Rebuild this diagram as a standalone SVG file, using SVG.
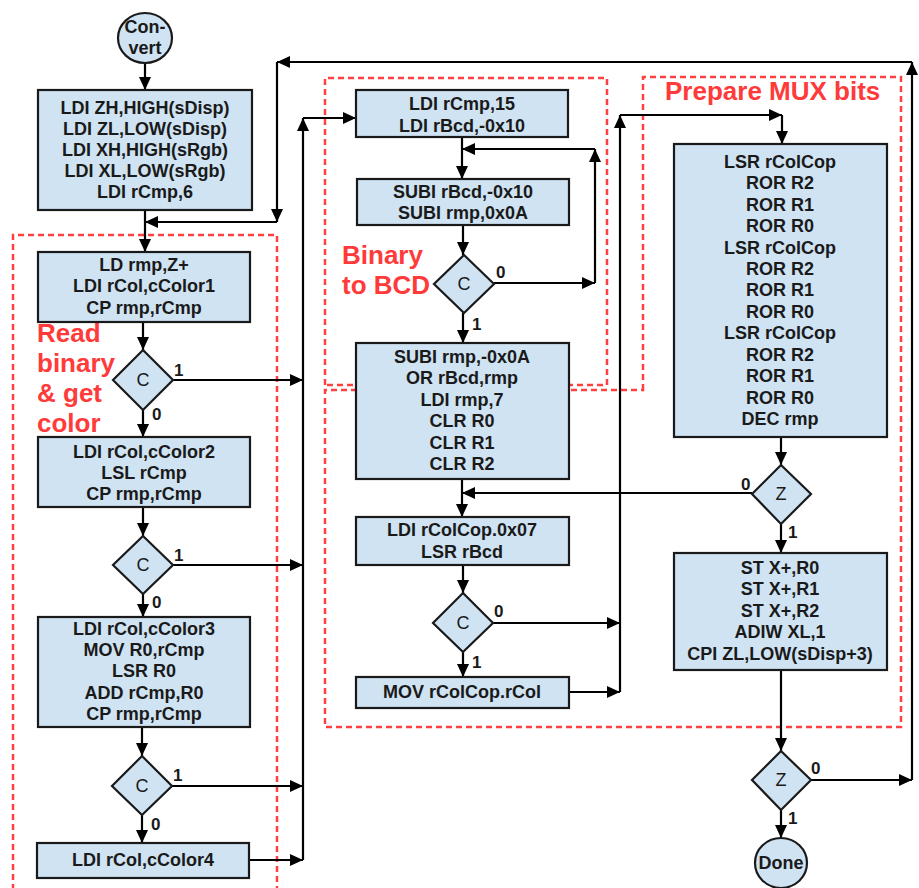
<svg xmlns="http://www.w3.org/2000/svg" width="919" height="888" viewBox="0 0 919 888">
<defs>
<marker id="ah" markerWidth="13" markerHeight="12" refX="13" refY="6" orient="auto" markerUnits="userSpaceOnUse"><path d="M0,0 L13,6 L0,12 z" fill="#000"/></marker>
<style>
.box{fill:#cfe3f3;stroke:#1a1a1a;stroke-width:2.2}
.t{font-family:"Liberation Sans",Arial,sans-serif;font-size:18px;font-weight:bold;fill:#1a1a1a;text-anchor:middle}
.d{font-family:"Liberation Sans",Arial,sans-serif;font-size:18px;fill:#1a1a1a;text-anchor:middle}
.l{font-family:"Liberation Sans",Arial,sans-serif;font-size:17px;font-weight:bold;fill:#1a1a1a}
.r{font-family:"Liberation Sans",Arial,sans-serif;font-size:26px;font-weight:bold;fill:#ff3a3a}
.dash{fill:none;stroke:#ff4040;stroke-width:2.5;stroke-dasharray:6,4}
.c line,.c path{stroke:#000;stroke-width:2.2;fill:none}
.c .a{marker-end:url(#ah)}
</style>
</defs>
<rect width="919" height="888" fill="#fff"/>
<g id="regions">
<path class="dash" d="M13,900 V235 H277 V900"/>
<path class="dash" d="M325,385 V78 H607 V385 Z"/>
<path class="dash" d="M643,390 V77 H901 V727 H325 V390 Z"/>
<text class="r" x="37" y="342">Read</text>
<text class="r" x="37" y="372">binary</text>
<text class="r" x="37" y="402">&amp; get</text>
<text class="r" x="37" y="432">color</text>
<text class="r" x="342" y="264">Binary</text>
<text class="r" x="342" y="294">to BCD</text>
<text class="r" x="665" y="100">Prepare MUX bits</text>
</g>
<g id="connectors" class="c">
<line class="a" x1="145" y1="63" x2="145" y2="90"/>
<line class="a" x1="145" y1="210" x2="145" y2="252"/>
<line class="a" x1="912" y1="62" x2="277" y2="62"/>
<line class="a" x1="277" y1="62" x2="277" y2="222"/>
<line class="a" x1="277" y1="222" x2="145" y2="222"/>
<line class="a" x1="143" y1="322" x2="143" y2="350"/>
<line class="a" x1="173" y1="380" x2="303" y2="380"/>
<line class="a" x1="143" y1="410" x2="143" y2="437"/>
<line class="a" x1="143" y1="507" x2="143" y2="536"/>
<line class="a" x1="173" y1="565" x2="303" y2="565"/>
<line class="a" x1="143" y1="594" x2="143" y2="617"/>
<line class="a" x1="142" y1="727" x2="142" y2="756"/>
<line class="a" x1="172" y1="786" x2="303" y2="786"/>
<line class="a" x1="142" y1="815" x2="142" y2="843"/>
<line class="a" x1="249" y1="860" x2="303" y2="860"/>
<line class="a" x1="303" y1="860" x2="303" y2="118"/>
<line class="a" x1="303" y1="118" x2="356" y2="118"/>
<line class="a" x1="462" y1="137" x2="462" y2="179"/>
<line class="a" x1="595" y1="149" x2="462" y2="149"/>
<line class="a" x1="595" y1="283" x2="595" y2="149"/>
<line class="a" x1="494" y1="283" x2="595" y2="283"/>
<line class="a" x1="463" y1="225" x2="463" y2="255"/>
<line class="a" x1="463" y1="313" x2="463" y2="343"/>
<line class="a" x1="462" y1="479" x2="462" y2="517"/>
<line class="a" x1="752" y1="493" x2="462" y2="493"/>
<line class="a" x1="463" y1="565" x2="463" y2="593"/>
<line class="a" x1="493" y1="623" x2="620" y2="623"/>
<line class="a" x1="463" y1="652" x2="463" y2="677"/>
<line class="a" x1="569" y1="692" x2="620" y2="692"/>
<line class="a" x1="620" y1="692" x2="620" y2="115"/>
<line class="a" x1="620" y1="115" x2="782" y2="115"/>
<line class="a" x1="782" y1="115" x2="782" y2="144"/>
<line class="a" x1="781" y1="437" x2="781" y2="465"/>
<line class="a" x1="781" y1="524" x2="781" y2="553"/>
<line class="a" x1="781" y1="670" x2="781" y2="751"/>
<line class="a" x1="811" y1="780" x2="912" y2="780"/>
<line class="a" x1="912" y1="780" x2="912" y2="62"/>
<line class="a" x1="781" y1="810" x2="781" y2="838"/>
</g>
<g id="convert"><ellipse class="box" cx="145" cy="38" rx="27" ry="25"/><text class="t" x="145" y="33">Con-</text><text class="t" x="145" y="54">vert</text></g>
<g id="init"><rect class="box" x="38" y="90" width="214" height="120"/>
<text class="t" x="145" y="114">LDI ZH,HIGH(sDisp)</text><text class="t" x="145" y="135">LDI ZL,LOW(sDisp)</text><text class="t" x="145" y="156">LDI XH,HIGH(sRgb)</text><text class="t" x="145" y="177">LDI XL,LOW(sRgb)</text><text class="t" x="145" y="198">LDI rCmp,6</text></g>
<g id="read"><rect class="box" x="38" y="252" width="212" height="70"/>
<text class="t" x="144" y="271">LD rmp,Z+</text><text class="t" x="144" y="292">LDI rCol,cColor1</text><text class="t" x="144" y="314">CP rmp,rCmp</text></g>
<g id="dec1"><path class="box" d="M143,350 L173,380 L143,410 L113,380 Z"/><text class="d" x="143" y="386">C</text><text class="l" x="174" y="376">1</text><text class="l" x="152" y="420">0</text></g>
<g id="col2"><rect class="box" x="38" y="437" width="212" height="70"/>
<text class="t" x="144" y="458">LDI rCol,cColor2</text><text class="t" x="144" y="479">LSL rCmp</text><text class="t" x="144" y="500">CP rmp,rCmp</text></g>
<g id="dec2"><path class="box" d="M143,536 L173,565 L143,594 L113,565 Z"/><text class="d" x="143" y="571">C</text><text class="l" x="174" y="561">1</text><text class="l" x="152" y="608">0</text></g>
<g id="col3"><rect class="box" x="38" y="617" width="212" height="110"/>
<text class="t" x="144" y="635">LDI rCol,cColor3</text><text class="t" x="144" y="656">MOV R0,rCmp</text><text class="t" x="144" y="677">LSR R0</text><text class="t" x="144" y="699">ADD rCmp,R0</text><text class="t" x="144" y="720">CP rmp,rCmp</text></g>
<g id="dec3"><path class="box" d="M142,756 L172,786 L142,815 L112,786 Z"/><text class="d" x="142" y="792">C</text><text class="l" x="173" y="781">1</text><text class="l" x="151" y="830">0</text></g>
<g id="col4"><rect class="box" x="37" y="843" width="212" height="35"/><text class="t" x="143" y="866">LDI rCol,cColor4</text></g>
<g id="bcdinit"><rect class="box" x="356" y="90" width="212" height="47"/>
<text class="t" x="462" y="110">LDI rCmp,15</text><text class="t" x="462" y="132">LDI rBcd,-0x10</text></g>
<g id="bcdsub"><rect class="box" x="357" y="179" width="212" height="46"/>
<text class="t" x="463" y="198">SUBI rBcd,-0x10</text><text class="t" x="463" y="219">SUBI rmp,0x0A</text></g>
<g id="dec4"><path class="box" d="M464,255 L494,284 L464,313 L434,284 Z"/><text class="d" x="464" y="290">C</text><text class="l" x="496" y="278">0</text><text class="l" x="472" y="330">1</text></g>
<g id="bcdfin"><rect class="box" x="356" y="343" width="213" height="136"/>
<text class="t" x="462" y="363">SUBI rmp,-0x0A</text><text class="t" x="462" y="384">OR rBcd,rmp</text><text class="t" x="462" y="406">LDI rmp,7</text><text class="t" x="462" y="427">CLR R0</text><text class="t" x="462" y="449">CLR R1</text><text class="t" x="462" y="470">CLR R2</text></g>
<g id="colcop"><rect class="box" x="356" y="517" width="213" height="48"/>
<text class="t" x="462" y="536">LDI rColCop.0x07</text><text class="t" x="462" y="558">LSR rBcd</text></g>
<g id="dec5"><path class="box" d="M463,593 L493,623 L463,652 L433,623 Z"/><text class="d" x="463" y="629">C</text><text class="l" x="494" y="617">0</text><text class="l" x="472" y="668">1</text></g>
<g id="mov"><rect class="box" x="356" y="677" width="213" height="31"/><text class="t" x="462" y="698">MOV rColCop.rCol</text></g>
<g id="mux"><rect class="box" x="674" y="144" width="213" height="293"/>
<text class="t" x="780" y="168">LSR rColCop</text><text class="t" x="780" y="189">ROR R2</text><text class="t" x="780" y="211">ROR R1</text><text class="t" x="780" y="232">ROR R0</text>
<text class="t" x="780" y="254">LSR rColCop</text><text class="t" x="780" y="275">ROR R2</text><text class="t" x="780" y="296">ROR R1</text><text class="t" x="780" y="318">ROR R0</text>
<text class="t" x="780" y="339">LSR rColCop</text><text class="t" x="780" y="361">ROR R2</text><text class="t" x="780" y="382">ROR R1</text><text class="t" x="780" y="404">ROR R0</text><text class="t" x="780" y="425">DEC rmp</text></g>
<g id="dec6"><path class="box" d="M781,465 L811,494 L781,524 L752,494 Z"/><text class="d" x="781" y="500">Z</text><text class="l" x="741" y="490">0</text><text class="l" x="788" y="538">1</text></g>
<g id="store"><rect class="box" x="674" y="553" width="213" height="117"/>
<text class="t" x="780" y="574">ST X+,R0</text><text class="t" x="780" y="595">ST X+,R1</text><text class="t" x="780" y="617">ST X+,R2</text><text class="t" x="780" y="638">ADIW XL,1</text><text class="t" x="780" y="660">CPI ZL,LOW(sDisp+3)</text></g>
<g id="dec7"><path class="box" d="M781,751 L811,780 L781,810 L752,780 Z"/><text class="d" x="781" y="786">Z</text><text class="l" x="811" y="774">0</text><text class="l" x="788" y="824">1</text></g>
<g id="done"><ellipse class="box" cx="781" cy="863" rx="26" ry="25"/><text class="t" x="781" y="869">Done</text></g>
</svg>
